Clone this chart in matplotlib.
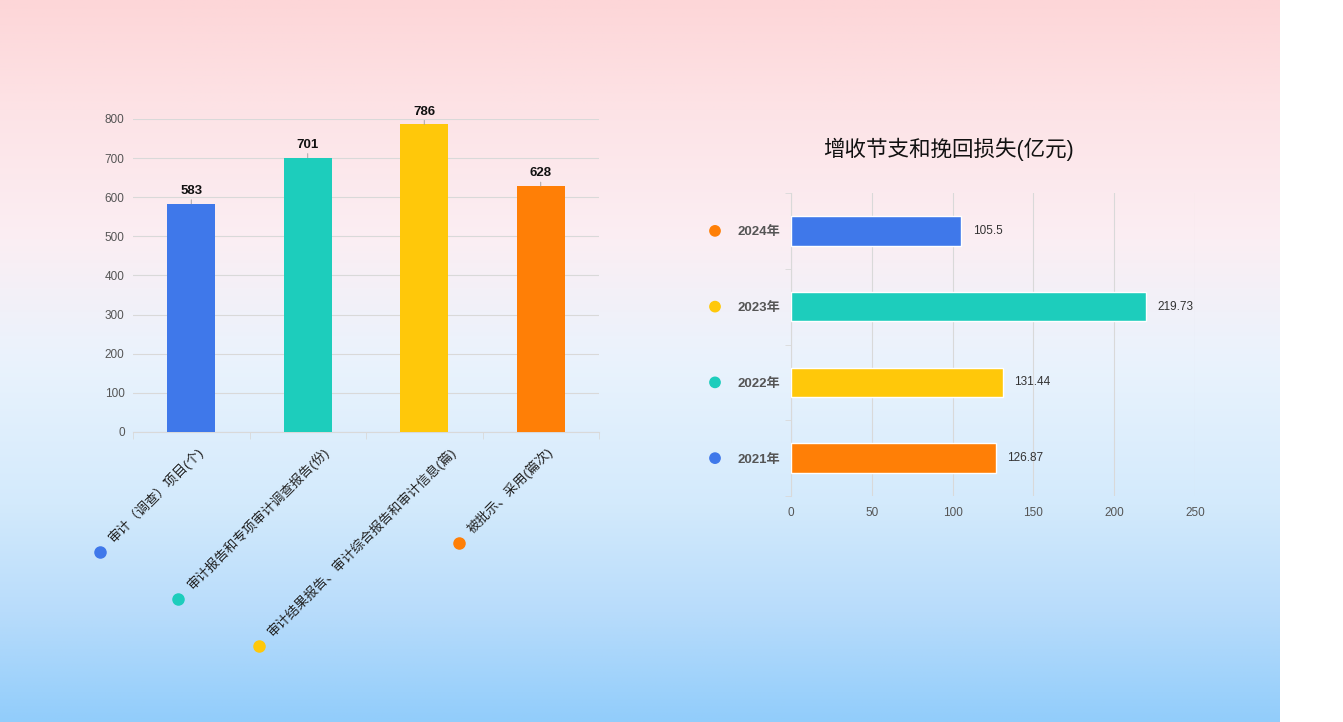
import numpy as np
import matplotlib
matplotlib.use("Agg")
import matplotlib.pyplot as plt
import matplotlib.transforms as mtransforms
from matplotlib.colors import LinearSegmentedColormap

plt.rcParams['font.family'] = ['Liberation Sans', 'Noto Sans CJK SC', 'DejaVu Sans']

# ---- data ----
left_categories = ["审计（调查）项目(个)", "审计报告和专项审计调查报告(份)",
                   "审计结果报告、审计综合报告和审计信息(篇)", "被批示、采用(篇次)"]
left_values = [583, 701, 786, 628]
left_colors = ["#3f78ea", "#1dcdbc", "#ffc80a", "#ff7f06"]
left_yticks = [0, 100, 200, 300, 400, 500, 600, 700, 800]

right_title = "增收节支和挽回损失(亿元)"
right_categories = ["2024年", "2023年", "2022年", "2021年"]
right_values = [105.5, 219.73, 131.44, 126.87]
right_bar_colors = ["#3f78ea", "#1dcdbc", "#ffc80a", "#ff7f06"]
right_dot_colors = ["#ff7f06", "#ffc80a", "#1dcdbc", "#3f78ea"]
right_value_labels = ["105.5", "219.73", "131.44", "126.87"]
right_xticks = [0, 50, 100, 150, 200, 250]

# label end offsets (pixels, styling only)
label_dx = [5, 14, 25, 5]

W, H = 1343, 722
fig = plt.figure(figsize=(W / 100, H / 100), dpi=100)
fig.patch.set_facecolor("white")

# ---- background (watercolour-like gradient) ----
bg = fig.add_axes([0, 0, 1280 / W, 1], zorder=-10)
bg_cmap = LinearSegmentedColormap.from_list(
    "bg", [(0.0, "#fdd6d8"), (0.15, "#fde3e6"), (0.33, "#fbeef3"),
           (0.5, "#eaf3fd"), (0.7, "#d3eafc"), (0.85, "#b8dcfb"), (1.0, "#92cdfb")])
grad = np.linspace(0, 1, 256)[:, None] * np.ones((1, 4))
bg.imshow(grad, aspect="auto", cmap=bg_cmap, extent=[0, 1, 0, 1], origin="upper")
bg.set_axis_off()

grid_c = "#d9d9d9"
tick_c = "#555555"

# ---- left bar chart ----
ax1 = fig.add_axes([133 / W, 1 - 432 / H, 466 / W, 313 / H])
ax1.patch.set_alpha(0)
x = np.arange(len(left_values))
ax1.bar(x, left_values, width=0.41, color=left_colors, zorder=3)
ax1.set_xlim(-0.5, len(left_values) - 0.5)
ax1.set_ylim(0, 800)
ax1.set_yticks(left_yticks)
ax1.tick_params(axis="y", length=0, colors=tick_c, labelsize=8.5, pad=6)
ax1.yaxis.grid(True, color=grid_c, lw=0.8, zorder=0)
for s in ["top", "right", "left"]:
    ax1.spines[s].set_visible(False)
ax1.spines["bottom"].set_color(grid_c)
ax1.set_xticks(x)
ax1.set_xticks(np.arange(-0.5, len(left_values)), minor=True)
ax1.tick_params(axis="x", which="major", length=0, pad=9)
ax1.tick_params(axis="x", which="minor", length=5, color=grid_c)
ax1.set_xticklabels(left_categories, rotation=45, ha="right", va="top",
                    rotation_mode="anchor", fontsize=9.5, color="#222222")
for lab, dx in zip(ax1.get_xticklabels(), label_dx):
    lab.set_transform(lab.get_transform() + mtransforms.ScaledTranslation(dx / 100, 0, fig.dpi_scale_trans))

for xi, v in zip(x, left_values):
    ax1.annotate(str(v), xy=(xi, v), xytext=(0, 5), textcoords="offset points",
                 ha="center", va="bottom", fontsize=9.5, fontweight="bold", color="#111111",
                 arrowprops=dict(arrowstyle="-", color="#999999", lw=0.6, shrinkA=0, shrinkB=0),
                 zorder=5)

# ---- right horizontal bar chart ----
ax2 = fig.add_axes([791 / W, 1 - 496 / H, 404 / W, 303 / H])
ax2.patch.set_alpha(0)
y = np.arange(len(right_values))
ax2.barh(y, right_values, height=0.39, color=right_bar_colors, edgecolor="white", lw=1, zorder=3)
ax2.set_ylim(len(right_values) - 0.5, -0.5)
ax2.set_xlim(0, 250)
ax2.set_xticks(right_xticks)
ax2.xaxis.grid(True, color=grid_c, lw=0.8, zorder=0)
for s in ["top", "right", "bottom"]:
    ax2.spines[s].set_visible(False)
ax2.spines["left"].set_color(grid_c)
ax2.tick_params(axis="x", length=0, colors=tick_c, labelsize=8.5, pad=8)
ax2.set_yticks(y)
ax2.set_yticks(np.arange(-0.5, len(right_values)), minor=True)
ax2.tick_params(axis="y", which="major", length=0, pad=8)
ax2.tick_params(axis="y", which="minor", length=4, color=grid_c)
ax2.set_yticklabels(right_categories, fontsize=9.5, fontweight="bold", color="#555555")
for yi, v, t in zip(y, right_values, right_value_labels):
    ax2.annotate(t, xy=(v, yi), xytext=(8, 0), textcoords="offset points",
                 ha="left", va="center", fontsize=8.5, color="#333333")
dot_tr = mtransforms.blended_transform_factory(ax2.transAxes, ax2.transData)
ax2.scatter([(715 - 791) / 404] * len(y), y, s=55, c=right_dot_colors,
            transform=dot_tr, clip_on=False, zorder=5)
fig.text(948 / W, 1 - 149 / H, right_title, ha="center", va="center",
         fontsize=15.5, color="#111111")

# ---- dots at the start of the rotated left labels ----
fig.canvas.draw()
r = fig.canvas.get_renderer()
for lab, c in zip(ax1.get_xticklabels(), left_colors):
    bb = lab.get_window_extent(r)
    px, py = bb.x0 - 6, bb.y0 - 7
    fx, fy = fig.transFigure.inverted().transform((px, py))
    fig.add_artist(plt.Line2D([fx], [fy], marker="o", markersize=8, color=c,
                              transform=fig.transFigure))

fig.savefig("out.png", dpi=100, facecolor=fig.get_facecolor())
